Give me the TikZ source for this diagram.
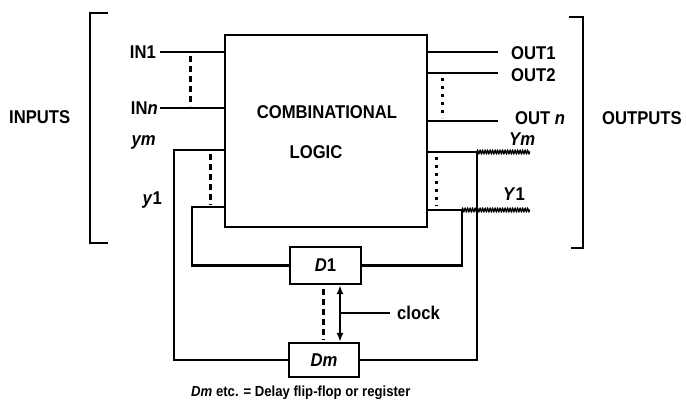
\documentclass[tikz,border=0pt]{standalone}
\usepackage{fontspec}
\setmainfont[FakeStretch=0.9]{Liberation Sans}
\usetikzlibrary{arrows.meta,decorations.pathmorphing}
\begin{document}
\begin{tikzpicture}[x=1pt,y=-1pt,
  lbl/.style={font=\fontsize{18.5}{20}\selectfont\bfseries, inner sep=0pt},
  captxt/.style={font=\fontsize{14.6}{16}\selectfont\bfseries, inner sep=0pt},
  box/.style={draw, line width=2.3pt, inner sep=0pt},
  wire/.style={line width=2.3pt},
  dashw/.style={line width=3pt, dash pattern=on 6pt off 4pt},
  dotw/.style={line width=3pt, dash pattern=on 3pt off 5pt},
  rope/.style={decorate, decoration={zigzag, segment length=2.5pt, amplitude=1.4pt}, line width=1.5pt},
  brk/.style={line width=2.6pt}]
\useasboundingbox (0,0) rectangle (686,408);

% main block
\node[box, minimum width=202pt, minimum height=192pt] (cl) at (326,131) {};
\node[lbl] (t1) at (327,112) {COMBINATIONAL};
\node[lbl] (t2) at (316,152) {LOGIC};

% delay boxes
\node[box, lbl, minimum width=71pt, minimum height=37pt] (d1) at (325.5,265.5) {\textit{D}1};
\node[box, lbl, minimum width=70pt, minimum height=34pt] (dm) at (324,360) {\textit{Dm}};

% brackets
\draw[brk] (108,13) -- (90,13) -- (90,243) -- (108,243);
\draw[brk] (569,17) -- (583,17) -- (583,248) -- (571,248);

% side labels
\node[lbl, anchor=west] (inputs) at (9,117) {INPUTS};
\node[lbl, anchor=west] (outputs) at (602,118) {OUTPUTS};

% input labels and wires
\node[lbl, anchor=east] (lin1) at (156,52) {IN1};
\node[lbl, anchor=east] (linn) at (158,108) {IN\textit{n}};
\node[lbl, anchor=east] (lym) at (156,142) {\textit{ym}};
\node[lbl, anchor=east] (ly1) at (162,200) {\textit{y}1};
\coordinate (i1) at (160,52);
\coordinate (in) at (160,108);
\draw[wire] (i1) -- (cl.west |- i1);
\draw[wire] (in) -- (cl.west |- in);
\draw[dashw] (190,56) -- (190,106);

% feedback inputs
\coordinate (ym) at (174,150);
\coordinate (yy1) at (192,207);
\draw[wire] (cl.west |- ym) -- (ym) |- (dm.west);
\draw[wire] (cl.west |- yy1) -- (yy1) |- (d1.west);
\draw[dashw] (210,154) -- (210,205);

% outputs
\coordinate (o1) at (498,52);
\coordinate (o2) at (498,73);
\coordinate (on) at (498,121);
\draw[wire] (cl.east |- o1) -- (o1);
\draw[wire] (cl.east |- o2) -- (o2);
\draw[wire] (cl.east |- on) -- (on);
\draw[dotw] (442,78) -- (442,118);
\node[lbl, anchor=west] (lo1) at (511,53) {OUT1};
\node[lbl, anchor=west] (lo2) at (511,75) {OUT2};
\node[lbl, anchor=west] (lon) at (515,118) {OUT \textit{n}};

% next-state outputs
\coordinate (Ym) at (477,152);
\coordinate (Y1) at (462,210);
\coordinate (Yme) at (530,152);
\coordinate (Y1e) at (530,210);
\draw[wire] (cl.east |- Ym) -- (Ym) |- (dm.east);
\draw[wire] (cl.east |- Y1) -- (Y1) |- (d1.east);
\draw[rope] (Ym) -- (Yme);
\draw[rope] (Y1) -- (Y1e);
\draw[dotw] (436,157) -- (436,206);
\node[lbl, anchor=west] (lYm) at (509,139) {\textit{Ym}};
\node[lbl, anchor=west] (lY1) at (503,194) {\textit{Y}1};

% clock
\coordinate (ck) at (340,313);
\coordinate (cke) at (390,313);
\draw[wire, {Latex[length=9pt,width=7pt]}-{Latex[length=9pt,width=7pt]}] (d1.south -| ck) -- (dm.north -| ck);
\draw[line width=1.5pt] (ck) -- (cke);
\node[lbl, anchor=west] (lck) at (397,313) {clock};
\draw[dashw] (323,289) -- (323,340);

% caption
\node[captxt, anchor=west] (capt) at (191,393) {\textit{Dm} etc. = Delay flip-flop or register};
\end{tikzpicture}
\end{document}
